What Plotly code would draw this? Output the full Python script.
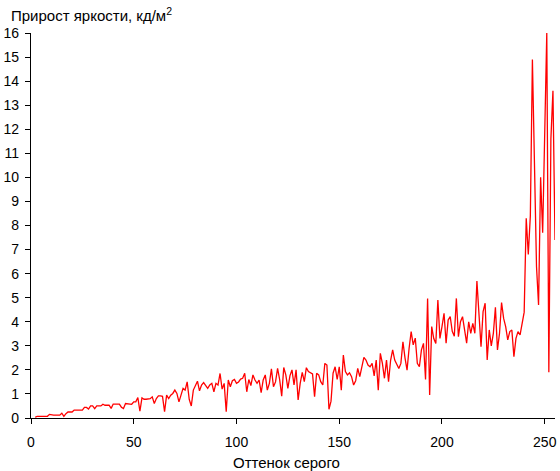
import plotly.graph_objects as go

gray_levels = list(range(2, 256))

brightness_gain = [
    # 2-11
    0.03, 0.07, 0.07, 0.07, 0.07, 0.07, 0.07, 0.15, 0.12, 0.12,
    # 12-21
    0.12, 0.12, 0.12, 0.20, 0.07, 0.18, 0.25, 0.25, 0.25, 0.33,
    # 22-31
    0.33, 0.33, 0.33, 0.33, 0.44, 0.44, 0.37, 0.50, 0.50, 0.39,
    # 32-41
    0.50, 0.50, 0.50, 0.57, 0.53, 0.53, 0.53, 0.40, 0.58, 0.58,
    # 42-51
    0.58, 0.58, 0.45, 0.39, 0.60, 0.60, 0.60, 0.57, 0.67, 0.67,
    # 52-61
    0.85, 0.28, 0.84, 0.78, 0.78, 0.78, 0.80, 0.88, 0.60, 0.81,
    # 62-71
    0.92, 0.92, 0.90, 0.26, 0.95, 0.81, 0.95, 1.02, 1.16, 1.02,
    # 72-81
    0.67, 0.95, 1.23, 1.16, 1.50, 0.77, 0.50, 1.16, 1.37, 1.53,
    # 82-91
    1.13, 1.37, 1.47, 1.32, 1.23, 1.37, 1.44, 1.09, 1.44, 1.37,
    # 92-101
    1.85, 1.20, 1.44, 0.26, 1.58, 1.30, 1.55, 1.60, 1.44, 1.50,
    # 102-111
    1.62, 1.65, 1.86, 1.09, 1.60, 1.35, 1.79, 1.58, 1.44, 1.58,
    # 112-121
    1.05, 1.58, 1.79, 1.16, 1.44, 2.04, 1.30, 1.50, 2.06, 1.60,
    # 122-131
    0.91, 2.10, 1.79, 1.23, 1.75, 2.00, 1.37, 2.00, 0.75, 1.44,
    # 132-141
    1.90, 1.51, 2.09, 1.93, 1.86, 1.83, 0.89, 1.86, 1.79, 1.51,
    # 142-151
    1.37, 2.27, 2.20, 0.36, 0.70, 1.86, 2.13, 1.60, 2.13, 1.16,
    # 152-161
    2.62, 1.93, 1.79, 1.88, 1.72, 1.37, 1.55, 2.06, 1.72, 2.13,
    # 162-171
    2.52, 2.41, 2.20, 2.13, 2.27, 1.75, 2.41, 1.16, 2.69, 2.27,
    # 172-181
    1.65, 2.41, 1.51, 2.40, 2.83, 2.41, 2.20, 2.06, 2.27, 3.17,
    # 182-191
    2.50, 1.99, 2.90, 3.59, 3.04, 3.32, 2.27, 2.13, 2.83, 3.10,
    # 192-201
    1.60, 4.97, 0.96, 3.80, 3.30, 3.10, 4.90, 3.31, 3.80, 4.35,
    # 202-211
    3.11, 4.07, 4.21, 3.60, 3.40, 4.97, 3.38, 4.00, 4.21, 3.66,
    # 212-221
    3.11, 4.00, 3.52, 3.93, 3.52, 5.69, 4.49, 2.96, 4.42, 4.77,
    # 222-231
    2.41, 3.66, 3.00, 3.52, 4.60, 2.83, 3.52, 4.80, 4.14, 3.80,
    # 232-241
    3.25, 3.59, 3.66, 2.55, 3.31, 3.59, 3.45, 3.93, 4.40, 8.30,
    # 242-251
    6.80, 8.40, 14.90, 10.60, 6.30, 4.70, 10.00, 7.70, 11.70, 16.00,
    # 252-255
    1.90, 11.60, 13.60, 7.40,
]

x_ticks = [0, 50, 100, 150, 200, 250]
y_ticks = list(range(0, 17))

font_family = "Liberation Sans, Arial, sans-serif"

fig = go.Figure()
fig.add_trace(go.Scatter(
    x=gray_levels,
    y=brightness_gain,
    mode="lines",
    line=dict(color="#ff0000", width=1.3),
    hoverinfo="skip",
    showlegend=False,
))

axis_common = dict(
    showgrid=False,
    zeroline=False,
    showline=True,
    linecolor="black",
    linewidth=1.3,
    ticks="outside",
    ticklen=5,
    tickwidth=1,
    tickcolor="black",
    tickfont=dict(family=font_family, size=14, color="black"),
)

fig.update_xaxes(
    range=[0, 255],
    tickvals=x_ticks,
    ticktext=[str(v) for v in x_ticks],
    ticklabelstandoff=6,
    **axis_common,
)
fig.update_yaxes(
    range=[0, 16],
    tickvals=y_ticks,
    ticktext=[str(v) for v in y_ticks],
    ticklabelstandoff=3,
    **axis_common,
)

fig.add_annotation(
    text="Прирост яркости, кд/м<sup>2</sup>",
    xref="paper", yref="paper",
    x=(8 - 30) / 527, y=(418 - 14) / 385,
    xanchor="left", yanchor="middle",
    showarrow=False,
    font=dict(family=font_family, size=15, color="black"),
)
fig.add_annotation(
    text="Оттенок серого",
    xref="paper", yref="paper",
    x=(287 - 30) / 527, y=(418 - 462) / 385,
    xanchor="center", yanchor="middle",
    showarrow=False,
    font=dict(family=font_family, size=15, color="black"),
)

fig.update_layout(
    width=560,
    height=471,
    margin=dict(l=30, r=3, t=33, b=53),
    paper_bgcolor="white",
    plot_bgcolor="white",
)

fig.write_html(
    "out.html",
    config={"displayModeBar": False},
    post_script="document.body.style.margin='0';document.body.style.overflow='hidden';",
)
